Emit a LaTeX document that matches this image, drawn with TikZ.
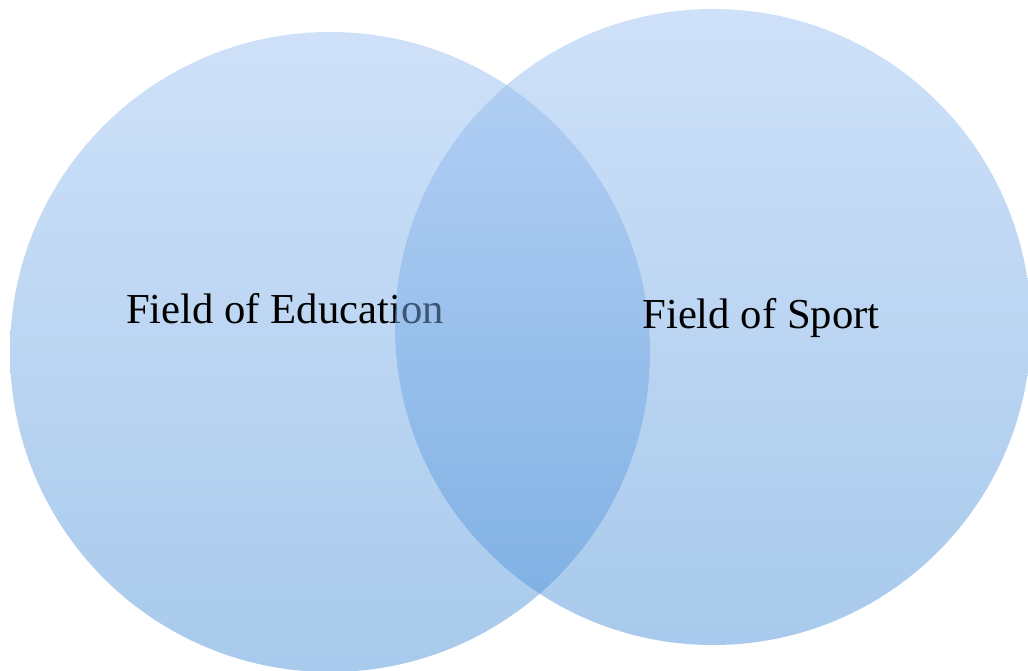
\documentclass[tikz,border=0pt]{standalone}
\usepackage{fontspec}
\setmainfont{Liberation Serif}
\begin{document}
\begin{tikzpicture}[x=1pt,y=-1pt,
  setcircle/.style={top color=topblue, bottom color=botblue, fill opacity=0.5, draw=none},
  label/.style={anchor=base, inner sep=0pt, font=\fontsize{42.7}{50}\selectfont, text=black, text opacity=1}]
\definecolor{topblue}{RGB}{159,195,243}
\definecolor{botblue}{RGB}{81,149,217}
\useasboundingbox (0,0) rectangle (1028,671);
\shade[setcircle] (330,352) circle[radius=320pt];
\node[label] (edu) at (285,323) {Field of Education};
\shade[setcircle] (713,327) circle[radius=318pt];
\node[label] (sport) at (761,328) {Field of Sport};
\end{tikzpicture}
\end{document}
